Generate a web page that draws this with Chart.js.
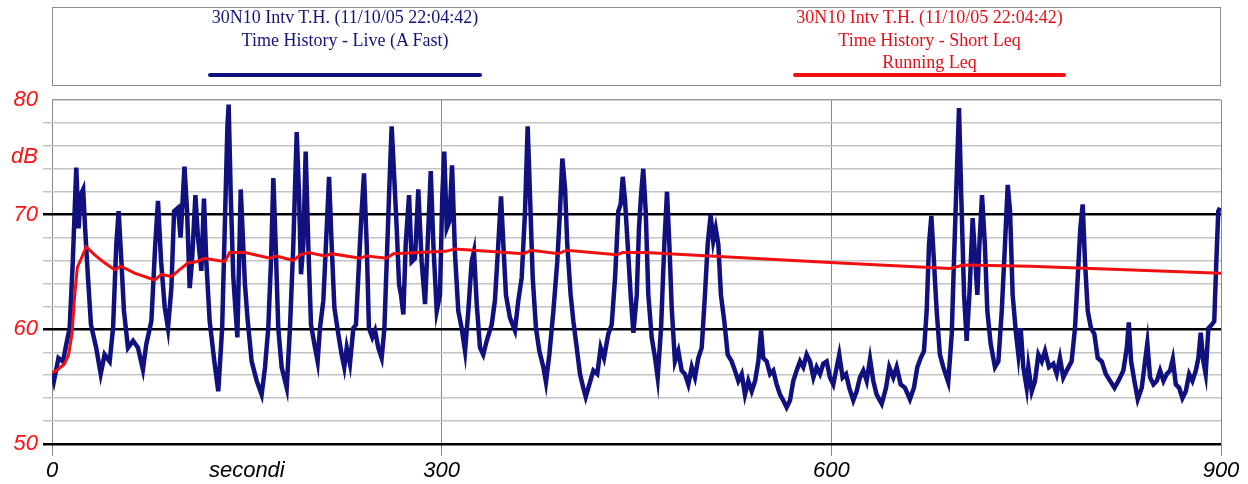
<!DOCTYPE html>
<html lang="it">
<head>
<meta charset="UTF-8">
<title>30N10 Intv T.H.</title>
<script src="https://cdn.jsdelivr.net/npm/chart.js@4.4.1/dist/chart.umd.min.js"></script>
<style>
  body { margin: 0; background: #fff; }
  #wrap { position: relative; width: 1248px; height: 484px; }
  #legend { position: absolute; left: 52px; top: 7px; width: 1167px; height: 77px; border: 1px solid #8c8c8c; background: #fff;
            font-family: 'Liberation Serif', 'Times New Roman', serif; font-size: 18px; line-height: 22.5px; }
  .item { position: absolute; top: -2px; text-align: center; white-space: nowrap; }
  .swatch { position: absolute; top: 65px; height: 4px; border-radius: 2px; }
  canvas { position: absolute; left: 0; top: 0; }
</style>
</head>
<body>
<div id="wrap">
  <canvas id="chart" width="1248" height="484"></canvas>
  <div id="legend">
    <div class="item" style="left:155px;width:274px;color:#14147a">30N10 Intv T.H. (11/10/05 22:04:42)<br>Time History - Live (A Fast)</div>
    <div class="swatch" style="left:155px;width:274px;background:#10107e"></div>
    <div class="item" style="left:740px;width:273px;color:#e81018">30N10 Intv T.H. (11/10/05 22:04:42)<br>Time History - Short Leq<br>Running Leq</div>
    <div class="swatch" style="left:740px;width:273px;background:#f01010"></div>
  </div>
</div>
<script>
// Time History - Live (A Fast), seconds / dB
const liveTime = [0, 1.5, 5, 8.5, 11, 13.6, 16, 18.7, 20.5, 22, 24, 25.5, 27.7, 30, 34, 37.5, 40.5, 44.4, 47, 49.5,
  51.3, 53.4, 55.4, 58.5, 62.4, 66.2, 70, 72.6, 76.5, 79.5, 81.6, 84, 86.8, 89.3, 91.9, 94, 97, 99, 102, 104,
  106, 107.8, 110.4, 112.4, 115, 117, 118.8, 121.4, 125, 128, 131, 133, 135, 136, 137.6, 139.6, 142.7, 145.3, 148.5, 150.5,
  153.7, 157.6, 161.4, 164, 166.5, 168.6, 170.4, 172.2, 174.2, 176.8, 180.7, 183.2, 185.8, 188.4, 190.2, 191.7, 193.5, 195.3, 197.3, 199.4,
  202.5, 204.5, 206.3, 208.9, 211.5, 213.3, 215.3, 217.4, 220.4, 223, 225, 226.9, 229.4, 232, 234, 236.4, 238.4, 240.2, 242.3, 244,
  246.6, 248.7, 251.2, 253.8, 255.9, 257.7, 259.5, 261.5, 263.5, 265.4, 267.2, 268.7, 270.5, 272.3, 274.9, 276.9, 279.5, 282, 284.6, 287.2,
  289.2, 291.6, 293.6, 296.2, 298.7, 300.5, 302, 303.9, 305.9, 308, 310.3, 312.8, 315.4, 318, 320.5, 323.1, 324.9, 327, 329.5, 332,
  334.7, 338.5, 341, 343.6, 345.7, 347.5, 349.5, 352.6, 356.4, 359, 361.6, 364.2, 366.2, 368, 370.1, 372.6, 375.2, 378.3, 380.3, 382.9,
  386, 389, 391.1, 392.9, 395, 396.7, 399.3, 401.4, 404, 406.5, 409, 410.9, 413.7, 416.8, 419.8, 422.4, 425, 428.3, 430.9, 433.5,
  436, 437.8, 439.4, 441.2, 443.2, 445.5, 447.6, 450.2, 451.9, 453.5, 455.2, 457.1, 459.1, 461.7, 464.3, 466.3, 468.9, 471.4, 473.5, 475.3,
  477.1, 479.6, 482.2, 484.8, 487.3, 489.9, 492.5, 495, 497.6, 500.2, 502.7, 504.8, 507.1, 509.1, 511, 513, 515, 517.6, 520.2, 523.3,
  525.8, 528.4, 531, 533.5, 536.1, 538.7, 541.3, 543.8, 545.9, 547.6, 550.2, 552.8, 555.3, 557.9, 560.5, 563, 565.6, 568.2, 570.7, 573.3,
  575.9, 578.4, 581, 583.6, 586.2, 588.7, 591.3, 593.8, 596.4, 599, 601.5, 606.1, 608.7, 611.3, 613.8, 616.9, 619.5, 622, 624.6, 627.2,
  629.8, 632.3, 634.9, 638.8, 642.1, 644.6, 647.7, 650.3, 653.4, 656.7, 660.5, 663.6, 666.2, 668.8, 671.3, 673.4, 675.2, 677, 679, 681.1,
  683.6, 686.2, 690, 692.7, 694.4, 696.5, 698.3, 700, 702.2, 704.2, 706.3, 708.8, 710.9, 712.4, 714, 716, 718.2, 720.1, 722.7, 726,
  728.6, 731.2, 733.7, 735.8, 737.6, 739.6, 742.2, 744, 745.8, 747.8, 750.4, 751.7, 754.3, 756.8, 759.4, 762, 764.5, 767.6, 770.9, 773.5,
  776, 778.6, 781.2, 785, 787.6, 789.7, 791.7, 793.5, 795.3, 797.4, 799.9, 802.5, 805.1, 808.2, 811.3, 814.6, 818, 821, 824.8, 827.5,
  829, 830.8, 833.3, 835.9, 839, 841.5, 843.3, 845.4, 848, 850.6, 853.1, 855.7, 858.2, 860.8, 862.9, 865.2, 867.8, 870.3, 872.9, 875.5,
  878, 880.6, 882.6, 884.4, 886.4, 888.2, 890.3, 892.8, 894.8, 896.4, 897.9, 899.2];
const liveLevel = [56.3, 55.5, 57.5, 57.2, 58.7, 60.1, 65.9, 74.1, 68.8, 71.7, 72.2, 68.8, 64.5, 60.4, 58.4, 56.1, 57.8, 57.2, 60.1, 67.4,
  70.3, 66, 61.6, 58.4, 59, 58.4, 56.5, 58.7, 60.7, 67.4, 71.2, 65.9, 61.9, 60.1, 63.6, 70.3, 70.6, 68, 74.2, 70.3,
  63.6, 65.9, 71.7, 68, 65.1, 71.4, 65.9, 60.7, 57.2, 54.6, 60.1, 68.8, 77.5, 79.6, 71.7, 64.5, 59.3, 72.2, 64, 61,
  57.2, 55.5, 54.3, 56.7, 60.1, 65.9, 73.2, 67.4, 60.1, 56.7, 54.9, 60.1, 67.4, 77.2, 71.7, 64.8, 67.4, 75.5, 67.4, 60.4,
  58.4, 57.2, 60.1, 62.5, 68.8, 73.3, 67.4, 61.9, 59.6, 57.8, 56.7, 58.4, 57, 60.1, 60.4, 65.9, 70.3, 73.6, 67.4, 60.1,
  59.3, 59.9, 58.4, 57.5, 60.1, 65.9, 71.7, 77.7, 73.2, 68.8, 63.9, 63, 61.3, 67.4, 71.7, 65.9, 66.2, 72.2, 65.9, 62.2,
  67.4, 73.8, 67.4, 61.6, 63, 71.7, 75.5, 68.8, 69.4, 74.3, 66.5, 61.6, 60.1, 58.1, 61.6, 65.9, 66.8, 62.2, 58.4, 57.8,
  59, 60.4, 62.5, 67.4, 71.6, 67.4, 63, 61, 59.9, 62.5, 64.5, 70.3, 77.7, 71.7, 64.5, 60.1, 58.1, 56.7, 55.4, 57.8,
  61.6, 65.9, 70.3, 74.9, 72.3, 67.4, 63, 60.7, 58.4, 56.1, 54.9, 54.1, 55.2, 56.4, 56.1, 58.4, 57.5, 59.6, 60.4, 64.5,
  70.3, 70.9, 73.3, 71.2, 67.4, 63, 59.7, 63, 68.8, 71.7, 74, 70.3, 63, 59.3, 57.5, 55.8, 60.1, 67.4, 72, 67.4,
  61.9, 57.2, 58.1, 56.4, 56.1, 55.2, 56.7, 55.8, 57.5, 58.4, 63, 67.4, 70, 67.7, 68.8, 67.4, 63, 60.7, 57.8, 57.2,
  56.4, 55.5, 56.1, 54.3, 55.5, 54.6, 55.5, 57.2, 59.9, 57.5, 57.2, 56.1, 56.4, 55.2, 54.3, 53.8, 53.2, 53.8, 55.5, 56.4,
  57.2, 56.7, 57.8, 57.2, 55.8, 56.7, 56.1, 57, 57.2, 55.8, 55.2, 57.8, 55.8, 56.1, 54.9, 53.8, 54.6, 55.8, 56.4, 55.5,
  57.4, 55.5, 54.3, 53.5, 54.9, 56.7, 55.8, 56.7, 55.2, 54.9, 53.9, 54.9, 56.7, 57.5, 58.1, 61.6, 67.4, 69.9, 65.9, 61.6,
  57.8, 56.7, 55.4, 59.6, 65.9, 73.2, 79.3, 71.7, 63, 59, 63, 69.7, 65.9, 63, 67.4, 71.7, 67.4, 61.6, 58.7, 56.7,
  57.2, 61.6, 67.4, 72.6, 70.3, 63, 59.6, 57.8, 60.1, 56.7, 54.9, 56.7, 54.6, 55.5, 57.8, 57.2, 58.1, 56.7, 57, 56.1,
  57.5, 55.8, 56.4, 57.2, 60.1, 64.5, 68.8, 70.9, 65.9, 61.6, 60.1, 59.6, 57.5, 57.2, 56.1, 55.5, 54.9, 55.5, 56.4, 58.4,
  60.6, 57.2, 55.5, 53.9, 54.9, 57.2, 58.8, 55.8, 55.2, 55.5, 56.4, 55.5, 56.1, 56.4, 57.4, 55.2, 54.9, 54, 54.6, 56.1,
  55.5, 56.4, 57.5, 59.7, 57.2, 56.1, 60.1, 60.4, 60.7, 65.9, 70.3, 70.6];

// Time History - Short Leq, Running Leq
const leqTime = [0, 4.6, 9.7, 12.8, 15.4, 17.5, 19.5, 22.6, 26.4, 32.8, 40.5, 48.2, 52.9, 63.6, 79, 84.2, 91.9, 98.3, 104.7, 111.1,
  117.6, 133, 136.8, 148.6, 167.8, 173, 185.8, 191, 197.3, 210.2, 215.3, 237.1, 242.3, 257.7, 262.8, 282, 302.6, 310.3, 324.4, 362.9,
  369.3, 389.8, 396.3, 434.7, 439.4, 456.6, 602.8, 676, 691.4, 701.6, 753, 900];
const leqLevel = [56.2, 56.5, 57, 57.8, 59.6, 63, 65.4, 66.2, 67.2, 66.5, 65.8, 65.2, 65.5, 64.9, 64.3, 64.8, 64.6, 65.2, 65.8, 65.9,
  66.2, 65.9, 66.7, 66.7, 66.2, 66.4, 66, 66.5, 66.7, 66.4, 66.6, 66.2, 66.4, 66.2, 66.6, 66.7, 66.8, 67, 66.9, 66.6,
  66.9, 66.6, 66.9, 66.5, 66.7, 66.7, 65.8, 65.4, 65.3, 65.6, 65.5, 64.9];

const xTicks = [0, 300, 600, 900];
const yLabels = { 80: '80', 75: 'dB', 70: '70', 60: '60', 50: '50' };

const toPoints = (xs, ys) => xs.map((x, i) => ({ x: x, y: ys[i] }));

function yLineColor(v) {
  if (v === 50 || v === 60 || v === 70) return '#000';
  if (v === 80) return '#9a9a9a';
  return v % 2 === 0 ? '#c4c4c4' : 'rgba(0,0,0,0)';
}

new Chart(document.getElementById('chart'), {
  type: 'line',
  data: {
    datasets: [{
      label: 'Running Leq',
      data: toPoints(leqTime, leqLevel),
      borderColor: '#f01010',
      borderWidth: 3,
      pointRadius: 0,
      tension: 0
    }, {
      label: 'Time History - Live (A Fast)',
      data: toPoints(liveTime, liveLevel),
      borderColor: '#10107e',
      borderWidth: 4.5,
      pointRadius: 0,
      tension: 0
    }]
  },
  options: {
    responsive: false,
    animation: false,
    devicePixelRatio: 1,
    layout: { padding: { top: 100, right: 27, left: 0, bottom: 0 } },
    plugins: { legend: { display: false }, tooltip: { enabled: false } },
    scales: {
      x: {
        type: 'linear',
        min: 0,
        max: 900,
        afterFit: s => { s.height = 40; },
        ticks: {
          stepSize: 150,
          autoSkip: false,
          maxRotation: 0,
          padding: 2,
          color: '#000',
          font: { family: "'Liberation Sans', Arial, sans-serif", size: 22, style: 'italic' },
          callback: v => xTicks.includes(v) ? String(v) : (v === 150 ? 'secondi' : '')
        },
        grid: {
          color: c => xTicks.includes(c.tick.value) ? '#8a8a8a' : 'rgba(0,0,0,0)',
          tickColor: c => xTicks.includes(c.tick.value) ? '#8a8a8a' : 'rgba(0,0,0,0)',
          lineWidth: 1,
          tickLength: 12
        },
        border: { display: false }
      },
      y: {
        min: 50,
        max: 80,
        afterFit: s => { s.width = 52; },
        ticks: {
          stepSize: 1,
          autoSkip: false,
          padding: 5,
          color: '#ff1010',
          font: { family: "'Liberation Sans', Arial, sans-serif", size: 22, style: 'italic' },
          callback: v => yLabels[v] || ''
        },
        grid: {
          color: c => yLineColor(c.tick.value),
          tickColor: c => c.tick.value === 80 ? 'rgba(0,0,0,0)' : yLineColor(c.tick.value),
          lineWidth: c => c.tick.value % 10 === 0 && c.tick.value !== 80 ? 2.5 : 1.5,
          tickLength: 9
        },
        border: { display: false }
      }
    }
  }
});
</script>
</body>
</html>
